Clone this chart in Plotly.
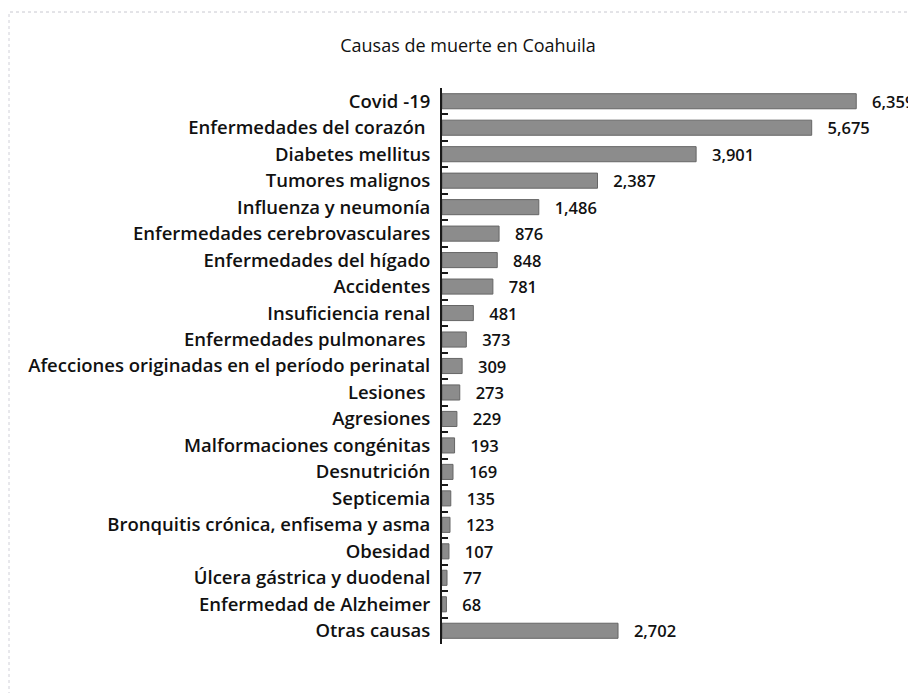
import plotly.graph_objects as go

categories = [
    "Covid -19",
    "Enfermedades del corazón ",
    "Diabetes mellitus",
    "Tumores malignos",
    "Influenza y neumonía",
    "Enfermedades cerebrovasculares",
    "Enfermedades del hígado",
    "Accidentes",
    "Insuficiencia renal",
    "Enfermedades pulmonares ",
    "Afecciones originadas en el período perinatal",
    "Lesiones ",
    "Agresiones",
    "Malformaciones congénitas",
    "Desnutrición",
    "Septicemia",
    "Bronquitis crónica, enfisema y asma",
    "Obesidad",
    "Úlcera gástrica y duodenal",
    "Enfermedad de Alzheimer",
    "Otras causas",
]
values = [6359, 5675, 3901, 2387, 1486, 876, 848, 781, 481, 373, 309, 273,
          229, 193, 169, 135, 123, 107, 77, 68, 2702]
title_text = "Causas de muerte en Coahuila"

FONT = "Open Sans"

# The page body adds an 8px offset, so the figure is 8px smaller and shifted.
W, H = 908, 685
L, R, T, B = 434, 18, 80, 49
PW, PH = W - L - R, H - T - B

fig = go.Figure(go.Bar(
    x=values,
    y=categories,
    orientation="h",
    marker=dict(color="#8c8c8c", line=dict(color="#666666", width=1)),
    text=values,
    texttemplate="   %{x:,}",
    textposition="outside",
    constraintext="none",
    cliponaxis=False,
    textfont=dict(family=FONT, size=16.5, color="#111111", weight=600),
    width=0.57,
))

fig.update_layout(
    width=W, height=H,
    margin=dict(l=L, r=R, t=T, b=B, autoexpand=False),
    paper_bgcolor="white",
    plot_bgcolor="white",
    showlegend=False,
    title=dict(text=title_text, x=(468 - 8) / W, xanchor="center",
               y=1 - (46 - 8) / H, yanchor="middle",
               font=dict(family=FONT, size=18, color="#111111", weight=500)),
    xaxis=dict(range=[0, 7000], visible=False, fixedrange=True),
    yaxis=dict(autorange="reversed", showline=True, linecolor="#1a1a1a",
               linewidth=2, ticks="inside", tickson="boundaries", ticklen=6,
               tickcolor="#1a1a1a", tickwidth=1.5, showgrid=False,
               ticklabelstandoff=6, automargin=False,
               tickfont=dict(family=FONT, size=18.5, color="#111111", weight=600)),
    shapes=[
        dict(type="line", xref="paper", yref="paper",
             x0=(2 - L) / PW, x1=(W - L) / PW,
             y0=1 + (T - 4) / PH, y1=1 + (T - 4) / PH,
             line=dict(color="#c8c8d0", width=1, dash="dot")),
        dict(type="line", xref="paper", yref="paper",
             x0=(1 - L) / PW, x1=(1 - L) / PW,
             y0=1 + (T - 6) / PH, y1=-B / PH,
             line=dict(color="#d0d0d8", width=1, dash="dot")),
    ],
)

fig.write_html("out.html")
